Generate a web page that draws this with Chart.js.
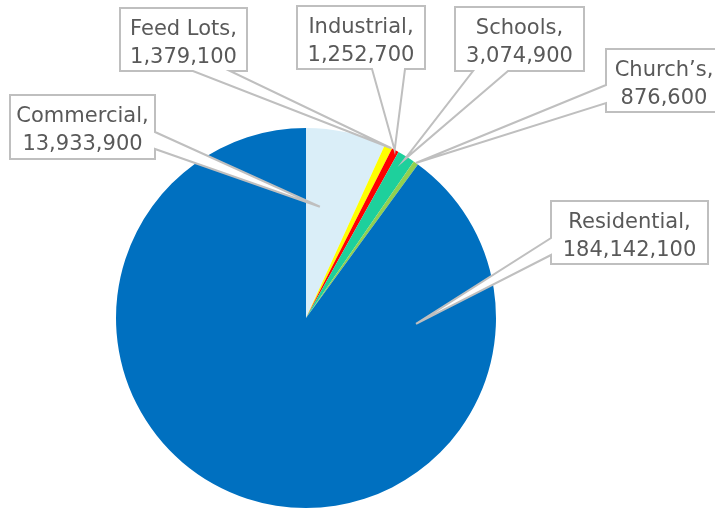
<!DOCTYPE html>
<html>
<head>
<meta charset="utf-8">
<script src="https://cdn.jsdelivr.net/npm/chart.js@4/dist/chart.umd.min.js"></script>
<style>
  html, body { margin: 0; padding: 0; background: #fff; }
  #wrap { width: 715px; height: 508px; }
</style>
</head>
<body>
<div id="wrap"><canvas id="usoChart" width="715" height="508"></canvas></div>
<script>
// datos del gráfico
const categorias = ['Commercial', 'Feed Lots', 'Industrial', 'Schools', 'Church\u2019s', 'Residential'];
const valores = [13933900, 1379100, 1252700, 3074900, 876600, 184142100];
const colores = ['#DAEEF8', '#FFFF00', '#FF0000', '#1ED09C', '#92D050', '#0070C0'];

// cajas de las etiquetas: [x1, y1, x2, y2], lado de la cuña, base de la cuña,
// y punta como fracción de ángulo / radio dentro de la porción
const callouts = [
    { box: [10, 95, 155, 159], side: 'right', base: [132, 149], frac: 0.29, rad: 0.59 },
    { box: [120, 8, 247, 71], side: 'bottom', base: [193, 230], frac: 0.9, rad: 1.0 },
    { box: [297, 6, 425, 69], side: 'bottom', base: [372, 405], frac: 0.4, rad: 1.0 },
    { box: [455, 7, 584, 71], side: 'bottom', base: [473, 508], frac: 0.5, rad: 0.98 },
    { box: [606, 49, 722, 112], side: 'left', base: [85, 103], frac: 0.5, rad: 1.0 },
    { box: [551, 201, 708, 264], side: 'left', base: [238, 255], frac: 0.176, rad: 0.58 }
];

function dibujarCaja(ctx, c, tip) {
    const [x1, y1, x2, y2] = c.box;
    const [a, b] = c.base;
    ctx.beginPath();
    ctx.moveTo(x1, y1);
    ctx.lineTo(x2, y1);
    if (c.side === 'right') {
        ctx.lineTo(x2, a); ctx.lineTo(tip.x, tip.y); ctx.lineTo(x2, b);
    }
    ctx.lineTo(x2, y2);
    if (c.side === 'bottom') {
        ctx.lineTo(b, y2); ctx.lineTo(tip.x, tip.y); ctx.lineTo(a, y2);
    }
    ctx.lineTo(x1, y2);
    if (c.side === 'left') {
        ctx.lineTo(x1, b); ctx.lineTo(tip.x, tip.y); ctx.lineTo(x1, a);
    }
    ctx.closePath();
    ctx.fillStyle = '#FFFFFF';
    ctx.fill();
    ctx.strokeStyle = '#BFBFBF';
    ctx.lineWidth = 2;
    ctx.stroke();
}

const pluginEtiquetas = {
    id: 'etiquetasCuna',
    afterDatasetsDraw(chart) {
        const ctx = chart.ctx;
        const meta = chart.getDatasetMeta(0);
        ctx.save();
        meta.data.forEach((arc, i) => {
            const c = callouts[i];
            const ang = arc.startAngle + (arc.endAngle - arc.startAngle) * c.frac;
            const r = arc.outerRadius * c.rad;
            const tip = { x: arc.x + Math.cos(ang) * r, y: arc.y + Math.sin(ang) * r };
            dibujarCaja(ctx, c, tip);

            // texto en dos líneas: categoría y valor
            const cx = (c.box[0] + c.box[2]) / 2;
            const cy = (c.box[1] + c.box[3]) / 2;
            ctx.fillStyle = '#595959';
            ctx.font = '21px "DejaVu Sans", sans-serif';
            ctx.textAlign = 'center';
            ctx.textBaseline = 'alphabetic';
            ctx.fillText(categorias[i] + ',', cx, cy - 5);
            ctx.fillText(valores[i].toLocaleString('en-US'), cx, cy + 23);
        });
        ctx.restore();
    }
};

function inicializarGraficoUso() {
    const canvas = document.getElementById('usoChart');
    if (!canvas) return;

    new Chart(canvas, {
        type: 'pie',
        data: {
            labels: categorias,
            datasets: [{
                data: valores,
                backgroundColor: colores,
                borderWidth: 0
            }]
        },
        options: {
            responsive: false,
            animation: false,
            layout: { padding: { left: 116, right: 219, top: 128, bottom: 0 } },
            plugins: {
                legend: { display: false },
                tooltip: { enabled: false }
            }
        },
        plugins: [pluginEtiquetas]
    });
}

document.addEventListener('DOMContentLoaded', inicializarGraficoUso);
</script>
</body>
</html>
